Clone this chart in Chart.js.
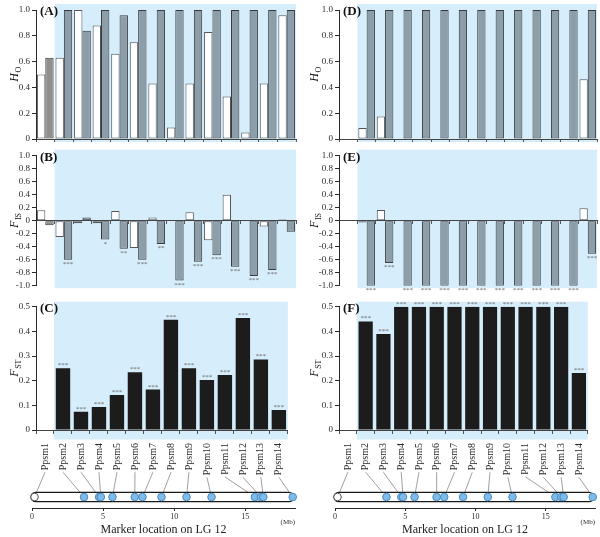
<!DOCTYPE html>
<html>
<head>
<meta charset="utf-8">
<script src="https://cdn.jsdelivr.net/npm/chart.js@4.4.1/dist/chart.umd.min.js"></script>
<style>
  body { margin: 0; background: #fff; }
  #fig { position: relative; width: 600px; height: 537px; overflow: hidden; }
  canvas { position: absolute; }
</style>
</head>
<body>
<div id="fig">
  <canvas id="cA" width="300" height="150" style="left:0;top:0"></canvas>
  <canvas id="cB" width="300" height="150" style="left:0;top:145px"></canvas>
  <canvas id="cC" width="300" height="200" style="left:0;top:290px"></canvas>
  <canvas id="cMapL" width="300" height="82" style="left:0;top:455px"></canvas>
  <canvas id="cD" width="300" height="150" style="left:300px;top:0"></canvas>
  <canvas id="cE" width="300" height="150" style="left:300px;top:145px"></canvas>
  <canvas id="cF" width="300" height="200" style="left:300px;top:290px"></canvas>
  <canvas id="cMapR" width="300" height="82" style="left:300px;top:455px"></canvas>
</div>
<script>
// markers on linkage group 12
const markers = ['Ppsm1', 'Ppsm2', 'Ppsm3', 'Ppsm4', 'Ppsm5', 'Ppsm6', 'Ppsm7',
  'Ppsm8', 'Ppsm9', 'Ppsm10', 'Ppsm11', 'Ppsm12', 'Ppsm13', 'Ppsm14'];
const markerMb = [0.18, 3.66, 4.72, 4.84, 5.66, 7.23, 7.77, 9.11, 10.87, 12.63, 15.68, 16.1, 16.27, 18.34];
const chromLengthMb = 18.4;
const mapTicksMb = [0, 5, 10, 15];

// (A) Ho, open and grey bars
const hoOpenA = [0.50, 0.63, 1.00, 0.88, 0.66, 0.75, 0.43, 0.09, 0.43, 0.83, 0.33, 0.05, 0.43, 0.96];
const hoGrayA = [0.63, 1.00, 0.84, 1.00, 0.96, 1.00, 1.00, 1.00, 1.00, 1.00, 1.00, 1.00, 1.00, 1.00];
// (B) Fis
const fisOpenB = [0.16, -0.25, -0.04, -0.04, 0.15, -0.42, 0.05, -0.01, 0.13, -0.30, 0.40, 0, -0.09, 0.02];
const fisGrayB = [-0.07, -0.60, 0.05, -0.29, -0.43, -0.60, -0.36, -0.92, -0.63, -0.53, -0.71, -0.85, -0.76, -0.17];
const fisStarsB = ['', '***', '', '*', '**', '***', '**', '***', '***', '***', '***', '***', '***', ''];
// (C) Fst
const fstC = [-0.01, 0.25, 0.074, 0.093, 0.142, 0.234, 0.164, 0.447, 0.25, 0.203, 0.223, 0.454, 0.286, 0.081];
const fstStarsC = ['', '***', '***', '***', '***', '***', '***', '***', '***', '***', '***', '***', '***', '***'];

// (D) Ho
const hoOpenD = [null, 0.085, 0.175, 0, 0, 0, 0, 0, 0, 0, 0, 0, 0, 0.464];
const hoGrayD = [null, 1, 1, 1, 1, 1, 1, 1, 1, 1, 1, 1, 1, 1];
// (E) Fis
const fisOpenE = [null, -0.026, 0.165, 0, 0, 0, 0, 0, 0, 0, 0, 0, 0, 0.19];
const fisGrayE = [null, -1, -0.65, -1, -1, -1, -1, -1, -1, -1, -1, -1, -1, -0.51];
const fisStarsE = ['', '***', '***', '***', '***', '***', '***', '***', '***', '***', '***', '***', '***', '***'];
// (F) Fst
const fstF = [null, 0.44, 0.389, 0.5, 0.5, 0.5, 0.5, 0.5, 0.5, 0.5, 0.5, 0.5, 0.5, 0.231];
const fstStarsF = ['', '***', '***', '***', '***', '***', '***', '***', '***', '***', '***', '***', '***', '***'];

const SERIF = '"Liberation Serif", "Times New Roman", serif';
const INK = '#2a2a2a';
const REGION = '#d6edfb';
const LABEL_TICK = 4, LABEL_PAD = 9;

function fmt(v) {
  return Math.abs(v) < 1e-9 ? '0' : v.toFixed(1);
}

// blue region, panel letter, y title and asterisks
function panelPlugin(p) {
  return {
    id: 'panel',
    beforeDraw(chart) {
      const { ctx, chartArea: a, scales: { x } } = chart;
      const left = (x.getPixelForValue(0) + x.getPixelForValue(1)) / 2;
      ctx.save();
      ctx.fillStyle = REGION;
      ctx.fillRect(left, a.top - p.bgTop, a.right - left, a.bottom - a.top + p.bgTop + p.bgBottom);
      ctx.restore();
    },
    afterDraw(chart) {
      const { ctx, chartArea: a } = chart;
      ctx.save();
      ctx.fillStyle = '#111';
      ctx.font = 'bold 13px ' + SERIF;
      ctx.textBaseline = 'middle';
      ctx.fillText(p.letter, a.left + 4, a.top + 2);

      // rotated y title with subscript
      ctx.translate(14, (a.top + a.bottom) / 2);
      ctx.rotate(-Math.PI / 2);
      ctx.textBaseline = 'alphabetic';
      ctx.font = 'italic 12px ' + SERIF;
      const w1 = ctx.measureText(p.title[0]).width;
      ctx.font = '8px ' + SERIF;
      const w2 = ctx.measureText(p.title[1]).width;
      const start = -(w1 + w2) / 2;
      ctx.font = 'italic 12px ' + SERIF;
      ctx.fillText(p.title[0], start, 4);
      ctx.font = '8px ' + SERIF;
      ctx.fillText(p.title[1], start + w1 + 0.5, 7);
      ctx.restore();

      ctx.save();
      ctx.font = '7px ' + SERIF;
      ctx.fillStyle = '#666';
      ctx.textAlign = 'center';
      const meta = chart.getDatasetMeta(p.starsOn);
      const vals = chart.data.datasets[p.starsOn].data;
      meta.data.forEach((bar, i) => {
        const s = p.stars[i];
        if (!s) return;
        ctx.fillText(s, bar.x, vals[i] < 0 ? bar.y + 6 : bar.y - 1);
      });
      ctx.restore();
    }
  };
}

function grayFill(c) {
  return c.dataIndex === 0 ? '#8f8f8f' : '#8c9eaa';
}

function barPanel(id, p) {
  const yScale = {
    min: p.yMin, max: p.yMax,
    afterFit: s => { s.width = p.axisW; },
    ticks: { stepSize: p.step, autoSkip: false, callback: fmt, color: INK,
      font: { family: SERIF, size: 9 }, padding: 2 },
    grid: { drawOnChartArea: false, tickLength: 4, color: INK },
    border: { color: INK }
  };
  const xScale = {
    grid: { drawOnChartArea: false, tickLength: 3, color: '#555', offset: true },
    border: { color: '#444' },
    ticks: { display: false }
  };
  if (p.xAtZero) {
    xScale.position = { y: 0 };
  } else {
    xScale.afterFit = s => { s.height = p.xHeight; };
  }
  if (p.showLabels) {
    xScale.grid.tickLength = LABEL_TICK;
    xScale.ticks = { display: true, autoSkip: false, minRotation: 90, maxRotation: 90,
      padding: LABEL_PAD, color: INK, font: { family: SERIF, size: 10 } };
  }
  return new Chart(document.getElementById(id), {
    type: 'bar',
    data: { labels: markers, datasets: p.datasets },
    options: {
      responsive: false,
      animation: false,
      events: [],
      layout: { padding: { left: 0, right: p.padRight, top: p.padTop, bottom: p.padBottom } },
      plugins: { legend: { display: false }, tooltip: { enabled: false } },
      scales: { x: xScale, y: yScale }
    },
    plugins: [panelPlugin(p)]
  });
}

function pairSets(open, gray) {
  return [
    { data: open, backgroundColor: '#fff', borderColor: '#555', borderWidth: 1, borderSkipped: false,
      categoryPercentage: 0.9, barPercentage: 1 },
    { data: gray, backgroundColor: grayFill, borderColor: '#3a3a3a', borderWidth: 1, borderSkipped: false,
      categoryPercentage: 0.9, barPercentage: 1 }
  ];
}

function fstSet(vals) {
  return [{ data: vals, backgroundColor: '#1c1c1c', borderColor: '#111', borderWidth: 0,
    categoryPercentage: 0.8, barPercentage: 1 }];
}

function mapPanel(id, cChart, padLeft, padRight) {
  const mapPlugin = {
    id: 'map',
    beforeDatasetsDraw(chart) {
      const { ctx, scales: { x, y } } = chart;
      const y0 = y.getPixelForValue(0);
      const cx = cChart.scales.x;
      const labelTop = 290 + cx.top + LABEL_TICK + LABEL_PAD - 455;
      ctx.save();
      ctx.font = '10px ' + SERIF;
      ctx.strokeStyle = '#777';
      ctx.lineWidth = 0.7;
      markers.forEach((m, i) => {
        const w = ctx.measureText(m).width;
        ctx.beginPath();
        ctx.moveTo(cx.getPixelForValue(i), labelTop + w + 2);
        ctx.lineTo(x.getPixelForValue(markerMb[i]), y0);
        ctx.stroke();
      });
      const x0 = x.getPixelForValue(0) - 1;
      const x1 = x.getPixelForValue(chromLengthMb);
      ctx.fillStyle = '#fff';
      ctx.strokeStyle = '#1a1a1a';
      ctx.lineWidth = 1.3;
      ctx.beginPath();
      ctx.roundRect(x0, y0 - 4.7, x1 - x0, 9.4, 4.7);
      ctx.fill();
      ctx.stroke();
      ctx.restore();
    },
    afterDraw(chart) {
      const { ctx, chartArea: a } = chart;
      ctx.save();
      ctx.font = '7px ' + SERIF;
      ctx.fillStyle = INK;
      ctx.textAlign = 'right';
      ctx.textBaseline = 'middle';
      ctx.fillText('(Mb)', a.right, a.bottom + 14);
      ctx.restore();
    }
  };
  return new Chart(document.getElementById(id), {
    type: 'scatter',
    data: {
      datasets: [{
        data: markerMb.map(v => ({ x: v, y: 0 })),
        clip: false,
        pointRadius: 3.8,
        pointBorderWidth: 1,
        pointBackgroundColor: c => c.dataIndex === 0 ? '#fff' : '#7fbbe8',
        pointBorderColor: c => c.dataIndex === 0 ? '#555' : '#4c8cc2'
      }]
    },
    options: {
      responsive: false,
      animation: false,
      events: [],
      layout: { padding: { left: padLeft, right: padRight, top: 31, bottom: 0 } },
      plugins: { legend: { display: false }, tooltip: { enabled: false } },
      scales: {
        x: {
          type: 'linear', min: 0, max: 18.5,
          afterBuildTicks: s => { s.ticks = mapTicksMb.map(v => ({ value: v })); },
          afterFit: s => { s.height = 29; },
          ticks: { color: INK, font: { family: SERIF, size: 8 }, padding: 1 },
          grid: { drawOnChartArea: false, tickLength: 3, color: INK },
          border: { color: INK },
          title: { display: true, text: 'Marker location on LG 12', color: '#222',
            font: { family: SERIF, size: 12 }, padding: { top: 0, bottom: 0 } }
        },
        y: { display: false, min: -1, max: 1 }
      }
    },
    plugins: [mapPlugin]
  });
}

const cols = [
  { ids: ['cA', 'cB', 'cC', 'cMapL'], letters: ['(A)', '(B)', '(C)'], axisW: 36, padRight: 4, mapPad: [32, 4],
    ho: [hoOpenA, hoGrayA], fis: [fisOpenB, fisGrayB], fisStars: fisStarsB, fst: fstC, fstStars: fstStarsC },
  { ids: ['cD', 'cE', 'cF', 'cMapR'], letters: ['(D)', '(E)', '(F)'], axisW: 39, padRight: 3, mapPad: [35, 2],
    ho: [hoOpenD, hoGrayD], fis: [fisOpenE, fisGrayE], fisStars: fisStarsE, fst: fstF, fstStars: fstStarsF }
];

cols.forEach(c => {
  barPanel(c.ids[0], {
    datasets: pairSets(c.ho[0], c.ho[1]), yMin: 0, yMax: 1, step: 0.2,
    axisW: c.axisW, padRight: c.padRight, padTop: 10, padBottom: 0, xHeight: 11,
    letter: c.letters[0], title: ['H', 'O'], bgTop: 6, bgBottom: 3, starsOn: 1, stars: []
  });
  barPanel(c.ids[1], {
    datasets: pairSets(c.fis[0], c.fis[1]), yMin: -1, yMax: 1, step: 0.2, xAtZero: true,
    axisW: c.axisW, padRight: c.padRight, padTop: 10.7, padBottom: 9.3,
    letter: c.letters[1], title: ['F', 'IS'], bgTop: 6, bgBottom: 2.5, starsOn: 1, stars: c.fisStars
  });
  const cChart = barPanel(c.ids[2], {
    datasets: fstSet(c.fst), yMin: 0, yMax: 0.5, step: 0.1, showLabels: true,
    axisW: c.axisW, padRight: c.padRight, padTop: 16.7, padBottom: 0, xHeight: 60,
    letter: c.letters[2], title: ['F', 'ST'], bgTop: 5, bgBottom: 9.5, starsOn: 0, stars: c.fstStars
  });
  mapPanel(c.ids[3], cChart, c.mapPad[0], c.mapPad[1]);
});
</script>
</body>
</html>
